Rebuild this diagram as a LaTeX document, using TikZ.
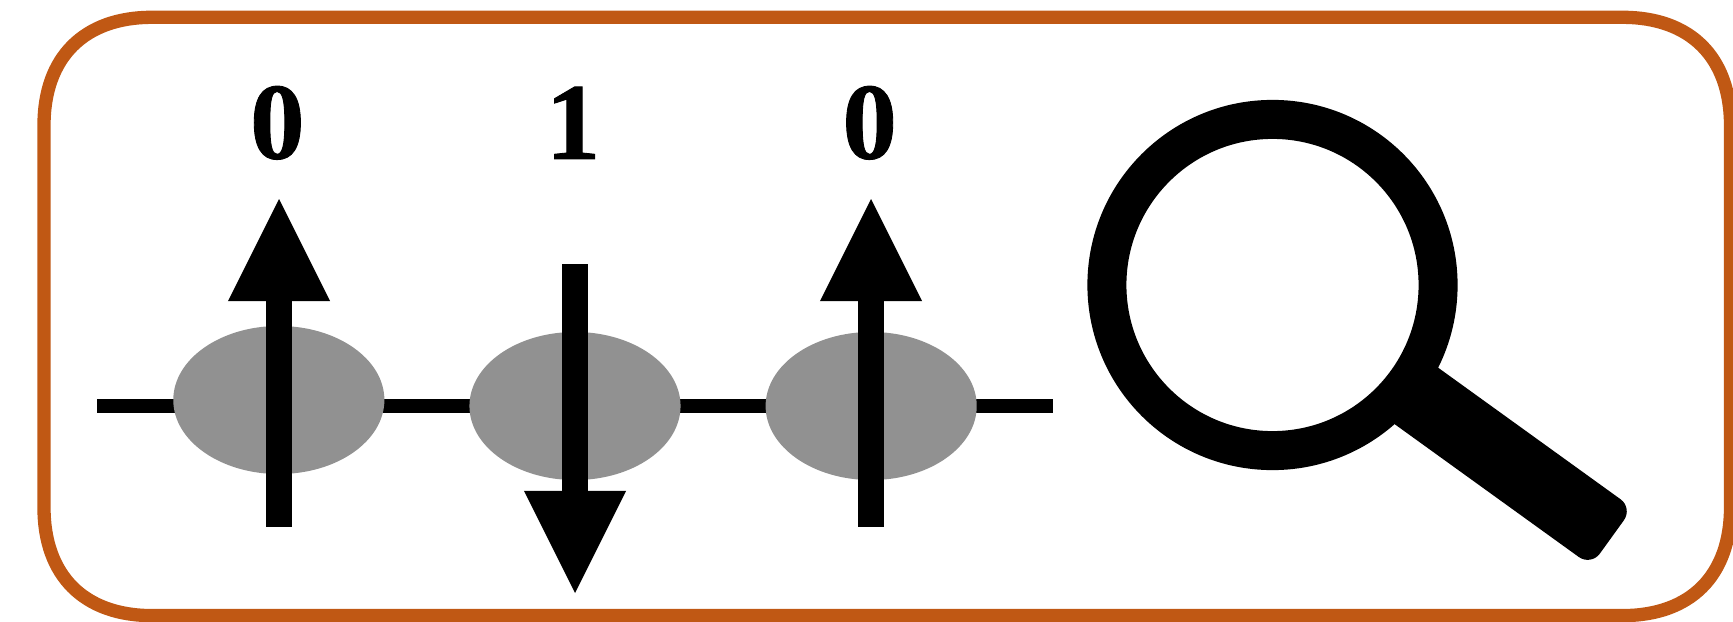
\documentclass[tikz,border=0pt]{standalone}
\usepackage{fontspec}
\newfontfamily\bitfont[UprightFont=* Bold,FakeBold=0.8]{Liberation Serif}
\usepackage{tikz}
\usetikzlibrary{arrows.meta}
\usetikzlibrary{shapes.geometric}
\definecolor{framecolor}{RGB}{192,88,20}
\definecolor{sitecolor}{RGB}{145,145,145}

\begin{document}
\begin{tikzpicture}[x=0.01cm, y=-0.01cm, node distance=2.96cm,
    frame/.style={
            draw=framecolor,
            line width=0.133cm
        },
        site/.style={
            ellipse,
            fill=sitecolor,
            inner sep=0pt,
            minimum width=2.11cm,
            minimum height=1.48cm
        },
        wire/.style={line width=0.135cm},
        spin/.style={
            line width=0.264cm,
            -{Triangle[length=1.02cm,width=1.02cm,line width=0pt]}
        },
        bit/.style={font=\bitfont\fontsize{31}{31}\selectfont},
        lens/.style={
            draw,
            circle,
            line width=0.39cm,
            inner sep=0pt,
            minimum size=3.31cm
        },
        handle/.style={
            fill,
            rectangle,
            rounded corners=0.15cm,
            inner sep=0pt,
            minimum width=2.56cm,
            minimum height=0.712cm,
            rotate=-35.8
        }
]
    \useasboundingbox (0,0) rectangle (1733,621);

    \draw [frame] (152,17.3) -- (1622.5,17.3)
        .. controls (1690.5,17.3) and (1730.5,57.3) .. (1730.5,125.3)
        -- (1730.5,507.6)
        .. controls (1730.5,575.6) and (1690.5,615.6) .. (1622.5,615.6)
        -- (152,615.6)
        .. controls (84,615.6) and (44,575.6) .. (44,507.6)
        -- (44,125.3)
        .. controls (44,57.3) and (84,17.3) .. (152,17.3) -- cycle;

    \coordinate (wirein) at (97,406);
    \coordinate (wireout) at (1053,406);
    \draw [wire] (wirein) -- (wireout);

    \node [site] (site2) at (575,406) {};
    \node [site, left of=site2, yshift=0.06cm] (site1) {};
    \node [site, right of=site2] (site3) {};

    \coordinate (tail1) at (279,526.7);
    \coordinate (head1) at (279,199);
    \coordinate (tail2) at (575,264);
    \coordinate (head2) at (575,593);
    \coordinate (tail3) at (871,526.7);
    \coordinate (head3) at (871,199);
    \draw [spin] (tail1) -- (head1);
    \draw [spin] (tail2) -- (head2);
    \draw [spin] (tail3) -- (head3);

    \node [bit, above of=site1, node distance=2.77cm, xshift=-0.015cm] (bit1) {0};
    \node [bit, above of=site2, node distance=2.83cm, xshift=-0.02cm] (bit2) {1};
    \node [bit, above of=site3, node distance=2.83cm, xshift=-0.015cm] (bit3) {0};

    \node [lens] (lens) at (1272.5,285) {};
    \node [handle] (handle) at (1508,462) {};
\end{tikzpicture}
\end{document}
